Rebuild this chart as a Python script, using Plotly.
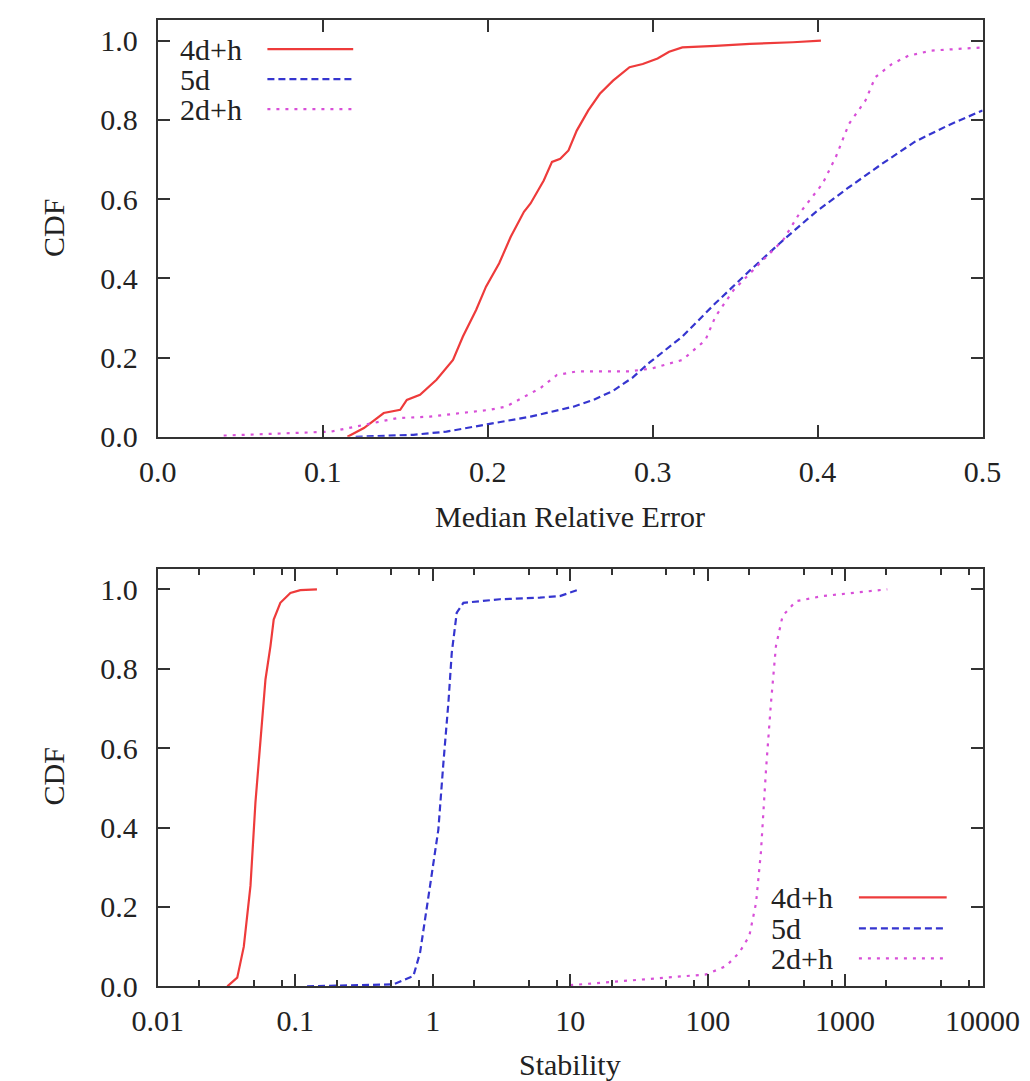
import plotly.graph_objects as go

# ---------------- data ----------------
series_names = ["4d+h", "5d", "2d+h"]

# Top panel: Median Relative Error CDF
mre_4dh_x = [0.115, 0.125, 0.137, 0.147, 0.151, 0.159, 0.169, 0.179, 0.185, 0.193, 0.199, 0.207,
             0.214, 0.222, 0.226, 0.234, 0.239, 0.244, 0.249, 0.254, 0.261, 0.268, 0.276, 0.286,
             0.294, 0.303, 0.310, 0.318, 0.338, 0.359, 0.385, 0.402]
mre_4dh_y = [0.0, 0.022, 0.060, 0.068, 0.093, 0.106, 0.144, 0.194, 0.253, 0.320, 0.379, 0.438,
             0.505, 0.568, 0.589, 0.647, 0.694, 0.702, 0.723, 0.773, 0.824, 0.866, 0.899, 0.933,
             0.941, 0.955, 0.972, 0.983, 0.987, 0.992, 0.996, 1.0]

mre_5d_x = [0.12, 0.155, 0.175, 0.199, 0.226, 0.252, 0.264, 0.276, 0.288, 0.298, 0.308, 0.318,
            0.338, 0.359, 0.379, 0.399, 0.419, 0.439, 0.459, 0.479, 0.5]
mre_5d_y = [0.0, 0.005, 0.013, 0.030, 0.051, 0.076, 0.093, 0.116, 0.150, 0.187, 0.220, 0.253,
            0.337, 0.420, 0.496, 0.568, 0.630, 0.689, 0.745, 0.786, 0.824]

mre_2dh_x = [0.04, 0.07, 0.105, 0.125, 0.145, 0.165, 0.185, 0.201, 0.211, 0.222, 0.232, 0.242,
             0.254, 0.286, 0.300, 0.318, 0.332, 0.338, 0.349, 0.365, 0.379, 0.389, 0.403, 0.411,
             0.419, 0.429, 0.435, 0.445, 0.455, 0.469, 0.5]
mre_2dh_y = [0.003, 0.008, 0.013, 0.030, 0.047, 0.051, 0.060, 0.068, 0.076, 0.100, 0.123, 0.156,
             0.165, 0.165, 0.173, 0.194, 0.244, 0.303, 0.370, 0.438, 0.496, 0.564, 0.639, 0.706,
             0.790, 0.849, 0.908, 0.941, 0.962, 0.975, 0.983]

# Bottom panel: Stability CDF (log x)
st_4dh_x = [0.0321, 0.0379, 0.0423, 0.0473, 0.0514, 0.0559, 0.0608, 0.0661, 0.0698, 0.078,
            0.0923, 0.109, 0.144]
st_4dh_y = [0.0, 0.022, 0.10, 0.253, 0.463, 0.63, 0.773, 0.857, 0.924, 0.966, 0.991, 0.998, 1.0]

st_5d_x = [0.122, 0.3, 0.519, 0.724, 0.81, 0.957, 1.10, 1.197, 1.302, 1.377, 1.497, 1.673,
           3.08, 6.02, 8.41, 11.74]
st_5d_y = [0.0, 0.002, 0.005, 0.026, 0.085, 0.253, 0.395, 0.563, 0.715, 0.84, 0.941, 0.966,
           0.975, 0.979, 0.983, 1.0]

st_2dh_x = [10.0, 24.2, 55.8, 97.5, 136, 170, 201, 225, 244, 266, 289, 314, 351, 438, 685,
            1197, 2028]
st_2dh_y = [0.003, 0.013, 0.022, 0.030, 0.051, 0.085, 0.127, 0.21, 0.337, 0.547, 0.715, 0.857,
            0.933, 0.97, 0.983, 0.992, 1.0]

mre_ticks = [0.0, 0.1, 0.2, 0.3, 0.4, 0.5]
mre_ticktext = ["0.0", "0.1", "0.2", "0.3", "0.4", "0.5"]
st_ticks = [0.01, 0.1, 1, 10, 100, 1000, 10000]
st_ticktext = ["0.01", "0.1", "1", "10", "100", "1000", "10000"]
st_minor = [m * d for d in [0.01, 0.1, 1, 10, 100, 1000] for m in (2, 5, 8)]
cdf_ticks = [0.0, 0.2, 0.4, 0.6, 0.8, 1.0]
cdf_ticktext = ["0.0", "0.2", "0.4", "0.6", "0.8", "1.0"]

# ---------------- styling ----------------
W, H = 1060, 1081
# mapping from target-picture pixels to figure pixels (as observed in the rendered picture)
SX, OX = 0.942, 33.0
SY, OY = 0.985, 7.9
FONT = "Liberation Serif, Times New Roman, serif"
FS = 30
TXT = "#222222"
colors = ["#ee3b3b", "#3535cf", "#d84fd8"]
dashes = ["solid", "7px,4px", "3px,6px"]


def px_x(p):
    return ((p - OX) / SX) / W


def px_y(p):
    return 1 - ((p - OY) / SY) / H


fig = go.Figure()

top = [(mre_4dh_x, mre_4dh_y), (mre_5d_x, mre_5d_y), (mre_2dh_x, mre_2dh_y)]
bot = [(st_4dh_x, st_4dh_y), (st_5d_x, st_5d_y), (st_2dh_x, st_2dh_y)]
for i, (x, y) in enumerate(top):
    fig.add_trace(go.Scatter(x=x, y=y, mode="lines", name=series_names[i], showlegend=False,
                             line=dict(color=colors[i], width=2.2, dash=dashes[i]),
                             xaxis="x", yaxis="y"))
for i, (x, y) in enumerate(bot):
    fig.add_trace(go.Scatter(x=x, y=y, mode="lines", name=series_names[i], showlegend=False,
                             line=dict(color=colors[i], width=2.2, dash=dashes[i]),
                             xaxis="x2", yaxis="y2"))

xdom = [px_x(157), px_x(984)]
axis_common = dict(showline=True, linecolor="#333333", linewidth=2, mirror="ticks",
                   ticks="inside", ticklen=12, tickwidth=2, tickcolor="#333333",
                   showgrid=False, zeroline=False, tickfont=dict(family=FONT, size=FS, color=TXT))

fig.update_layout(
    width=W, height=H,
    margin=dict(l=0, r=0, t=0, b=0),
    paper_bgcolor="white", plot_bgcolor="white",
    showlegend=False,
    xaxis=dict(domain=xdom, anchor="y", range=[0, 0.5], tickmode="array",
               tickvals=mre_ticks, ticktext=mre_ticktext, ticklabelstandoff=7, **axis_common),
    yaxis=dict(domain=[px_y(437), px_y(20)], anchor="x", range=[0, 1.052], tickmode="array",
               tickvals=cdf_ticks, ticktext=cdf_ticktext, ticklabelstandoff=12, **axis_common),
    xaxis2=dict(domain=xdom, anchor="y2", type="log", range=[-2, 4], tickmode="array",
                tickvals=st_ticks, ticktext=st_ticktext, ticklabelstandoff=7,
                minor=dict(tickmode="array", tickvals=st_minor, ticks="inside", ticklen=6,
                           tickwidth=2, tickcolor="#333333", showgrid=False),
                **axis_common),
    yaxis2=dict(domain=[px_y(987), px_y(569)], anchor="x2", range=[0, 1.052], tickmode="array",
                tickvals=cdf_ticks, ticktext=cdf_ticktext, ticklabelstandoff=12, **axis_common),
)

# axis titles
ann = [
    dict(text="CDF", x=px_x(53), y=px_y(228), textangle=-90),
    dict(text="Median Relative Error", x=px_x(570), y=px_y(517)),
    dict(text="CDF", x=px_x(53), y=px_y(777), textangle=-90),
    dict(text="Stability", x=px_x(570), y=px_y(1065)),
]
for a in ann:
    fig.add_annotation(xref="paper", yref="paper", showarrow=False, xanchor="center",
                       yanchor="middle", font=dict(family=FONT, size=FS, color=TXT), **a)

# legends (gnuplot style: text left, sample right)
legend_specs = [
    dict(text_x=177, line_x0=267, line_x1=353, rows=[49, 79, 109]),
    dict(text_x=770, line_x0=860, line_x1=948, rows=[898, 929, 959]),
]
for spec in legend_specs:
    for i, ry in enumerate(spec["rows"]):
        fig.add_annotation(xref="paper", yref="paper", showarrow=False, xanchor="left",
                           yanchor="middle", x=px_x(spec["text_x"]), y=px_y(ry),
                           text=series_names[i], font=dict(family=FONT, size=FS, color=TXT))
        fig.add_shape(type="line", xref="paper", yref="paper",
                      x0=px_x(spec["line_x0"]), x1=px_x(spec["line_x1"]),
                      y0=px_y(ry), y1=px_y(ry),
                      line=dict(color=colors[i], width=2.2, dash=dashes[i]))

fig.write_html("out.html")
